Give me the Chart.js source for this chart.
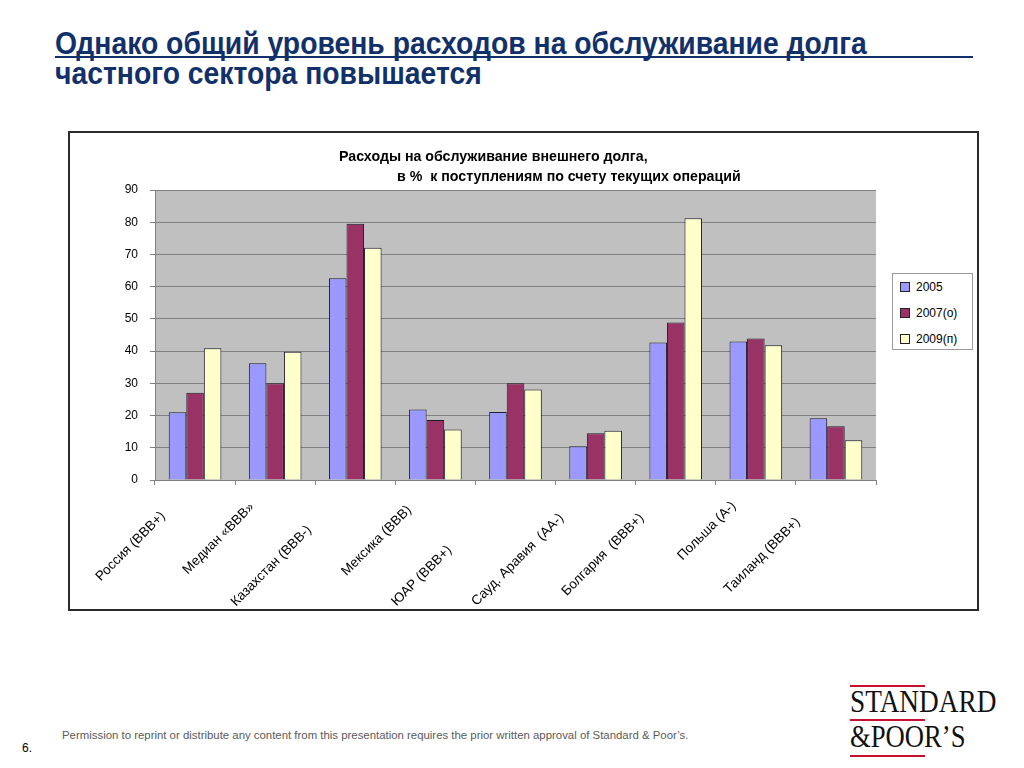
<!DOCTYPE html>
<html>
<head>
<meta charset="utf-8">
<script src="https://cdn.jsdelivr.net/npm/chart.js@4/dist/chart.umd.min.js"></script>
<style>
  html, body { margin:0; padding:0; background:#fff; }
  body { width:1024px; height:768px; position:relative; overflow:hidden; font-family:"Liberation Sans", Arial, sans-serif; }
  .abs { position:absolute; white-space:nowrap; }
  #t1, #t2 { left:55px; font-family:"Liberation Sans",Arial,sans-serif; font-weight:bold; font-size:32px; line-height:36px; color:#12306a; transform-origin:0 0; transform:scaleX(0.885); }
  #t1 { top:25px; }
  #t2 { top:55px; }
  #rule { left:55px; top:56px; width:918px; height:2px; background:#12306a; }
  #frame { left:68px; top:131px; width:907px; height:476px; border:2px solid #2b2b2b; }
  #chartbox { left:70px; top:133px; width:907px; height:476px; }
  .ct { font-weight:bold; font-size:14.2px; color:#000; transform-origin:0 0; }
  #legend { left:892px; top:273px; width:79px; height:75px; border:1px solid #9a9a9a; background:#fff; }
  .li { position:absolute; left:7px; font-size:12px; color:#000; }
  .sw { display:inline-block; width:8px; height:8px; border:1px solid #222; vertical-align:middle; margin-right:6px; position:relative; top:-1px; }
  #foot { left:62px; top:729px; font-size:11.4px; color:#5a5a5a; }
  #pg { left:22px; top:741px; font-size:12px; color:#000; }
  .red { position:absolute; left:850px; width:75px; height:2px; background:#c8102e; }
  .logo { position:absolute; left:850px; font-family:"Liberation Serif","Times New Roman",serif; font-size:31px; color:#111; transform-origin:0 0; }
</style>
</head>
<body>
<div id="t1" class="abs">Однако общий уровень расходов на обслуживание долга</div>
<div id="rule" class="abs"></div>
<div id="t2" class="abs">частного сектора повышается</div>

<div id="frame" class="abs"></div>
<div id="chartbox" class="abs"><canvas id="c" width="907" height="476"></canvas></div>
<div class="abs ct" style="left:339px; top:148px;">Расходы на обслуживание внешнего долга,</div>
<div class="abs ct" style="left:397px; top:168px;">в %&nbsp; к поступлениям по счету текущих операций</div>

<div id="legend" class="abs"></div>

<div id="foot" class="abs">Permission to reprint or distribute any content from this presentation requires the prior written approval of Standard &amp; Poor’s.</div>
<div id="pg" class="abs">6.</div>

<div class="red" style="top:685px;"></div>
<div class="logo" style="top:684px; transform:scaleX(0.88);">STANDARD</div>
<div class="red" style="top:719px;"></div>
<div class="logo" style="top:719px; transform:scaleX(0.86);">&amp;POOR’S</div>
<div class="red" style="top:755px;"></div>

<script>
// ---- data ----
const categories = ['Россия (BBB+)', 'Медиан «BBB»', 'Казахстан (BBB-)', 'Мексика (BBB)', 'ЮАР (BBB+)', 'Сауд. Аравия  (АА-)', 'Болгария  (BBB+)', 'Польша (А-)', 'Таиланд (BBB+)'];
const seriesNames = ['2005', '2007(о)', '2009(п)'];
const values2005 = [21.0, 36.2, 62.6, 21.9, 21.1, 10.5, 42.7, 43.0, 19.2];
const values2007 = [27.1, 30.0, 79.5, 18.6, 30.0, 14.5, 48.9, 43.9, 16.7];
const values2009 = [40.9, 39.8, 72.1, 15.7, 28.1, 15.3, 81.2, 41.8, 12.3];
const yTicks = [0, 10, 20, 30, 40, 50, 60, 70, 80, 90];

// ---- styles / layout (not data) ----
const colors = ['#9999ff', '#993366', '#ffffcc'];
const labelShift = [32, 23, 46, 26, 66, 34, 34, 22, 38];

// legend (HTML)
const leg = document.getElementById('legend');
seriesNames.forEach((n, i) => {
  const d = document.createElement('div');
  d.className = 'li';
  d.style.top = (6 + i * 26) + 'px';
  d.innerHTML = '<span class="sw" style="background:' + colors[i] + '"></span>' + n;
  leg.appendChild(d);
});

const plotBg = {
  id: 'plotBg',
  beforeDraw(chart) {
    const a = chart.chartArea, ctx = chart.ctx;
    ctx.save();
    ctx.fillStyle = '#c0c0c0';
    ctx.fillRect(a.left, a.top, a.right - a.left, a.bottom - a.top);
    ctx.restore();
  }
};

const xLabels = {
  id: 'xLabels',
  afterDraw(chart) {
    const xs = chart.scales.x, ctx = chart.ctx;
    ctx.save();
    ctx.font = '13.5px "Liberation Sans", Arial, sans-serif';
    ctx.fillStyle = '#000';
    ctx.textAlign = 'right';
    ctx.textBaseline = 'middle';
    categories.forEach((lab, i) => {
      const x = xs.getPixelForValue(i);
      const s = labelShift[i];
      ctx.save();
      ctx.translate(x - s, xs.top + s + 2);
      ctx.rotate(-Math.PI / 4);
      ctx.fillText(lab, 0, 0);
      ctx.restore();
    });
    ctx.restore();
  }
};

const datasets = [values2005, values2007, values2009].map((v, i) => ({
  label: seriesNames[i],
  data: v,
  backgroundColor: colors[i],
  borderColor: '#1c1c2c',
  borderWidth: 1,
  categoryPercentage: 0.657,
  barPercentage: 1.0
}));

new Chart(document.getElementById('c'), {
  type: 'bar',
  data: { labels: categories, datasets },
  plugins: [plotBg, xLabels],
  options: {
    responsive: false,
    animation: false,
    events: [],
    layout: { padding: { left: 0, top: 57, right: 101, bottom: 0 } },
    plugins: { legend: { display: false }, title: { display: false }, tooltip: { enabled: false } },
    scales: {
      x: {
        ticks: { display: false },
        grid: { display: true, offset: true, drawOnChartArea: false, drawTicks: true, tickLength: 5, color: '#808080' },
        border: { display: true, color: '#808080' },
        afterFit(s) { s.height = 129; }
      },
      y: {
        min: 0, max: 90,
        afterBuildTicks(s) { s.ticks = yTicks.map(v => ({ value: v })); },
        ticks: { font: { size: 12, family: '"Liberation Sans", Arial, sans-serif' }, color: '#000', padding: 12 },
        grid: { color: '#808080', tickLength: 5, tickColor: '#808080' },
        border: { display: true, color: '#808080' },
        afterFit(s) { s.width = 85; }
      }
    }
  }
});
</script>
</body>
</html>
